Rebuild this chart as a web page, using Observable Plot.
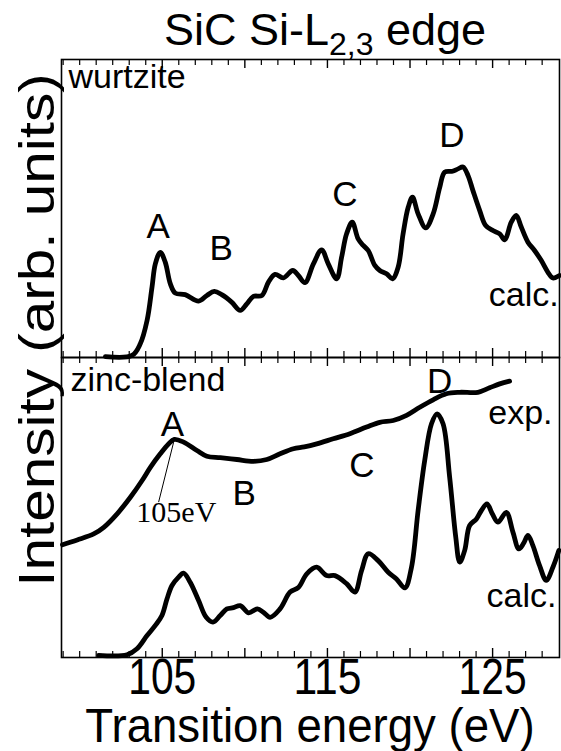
<!DOCTYPE html>
<html><head><meta charset="utf-8">
<script src="https://cdn.jsdelivr.net/npm/d3@7"></script>
<script src="https://cdn.jsdelivr.net/npm/@observablehq/plot@0.6"></script>
<style>
body{margin:0;background:#fff;}
#wrap{position:relative;width:561px;height:751px;overflow:hidden;font-family:"Liberation Sans",Arial,sans-serif;color:#000;}
#wrap svg{position:absolute;left:0;background:transparent;}
.lab{position:absolute;white-space:nowrap;line-height:1;}
#title{left:0;width:650px;text-align:center;font-size:45px;top:7px;}
#xlabel{left:0;width:620px;text-align:center;font-size:48px;top:702px;transform:scaleX(0.95);transform-origin:310px 50%;}
#ylabel{font-size:50px;width:600px;text-align:center;left:-263px;top:305px;transform:rotate(-90deg) scaleX(1.17);transform-origin:50% 50%;}
</style></head><body>
<div id="wrap">
  <div id="ptop"></div>
  <div id="pbot"></div>
  <div class="lab" id="title">SiC Si-L<span style="font-size:32px;position:relative;top:10px">2,3</span> edge</div>
  <div class="lab" id="ylabel">Intensity (arb. units)</div>
  <div class="lab" id="xlabel">Transition energy (eV)</div>
</div>
<script>
// ---- data ----
const xDomain = [98.9, 129.05];
const majorTicks = [105, 110, 115, 120, 125];
const minorTicks = [99,100,101,102,103,104,106,107,108,109,111,112,113,114,116,117,118,119,121,122,123,124,126,127,128];
const tickLabels = [105, 115, 125];

// wurtzite, calculated
const wzE = [101.56,103.17,103.67,104.08,104.38,104.58,104.88,105.18,105.49,105.79,106.39,107.2,107.7,108.15,108.6,109.2,109.72,110.12,110.52,111.03,111.43,111.83,112.33,112.9,113.24,113.64,114.15,114.65,115.05,115.56,115.86,116.16,116.5,116.86,117.17,117.47,117.87,118.17,118.58,118.94,119.28,119.58,119.89,120.15,120.49,120.95,121.4,121.8,122.1,122.57,122.91,123.21,123.51,123.81,124.22,124.58,125.02,125.43,125.73,126.13,126.43,126.74,127.14,127.54,127.94,128.35,128.65,129.05];
const wzCalc = [0.3,0.7,4.6,12.4,23.6,31.4,35.3,32,24.7,21.6,21.1,18.9,20.8,22.2,21.1,18.6,15.8,18,20.5,20.8,25.3,27.9,26.7,29.2,27.5,25.1,31.4,36.1,31.4,26.4,33.7,41.5,45.4,39.8,37.6,35.9,30.9,29.2,28.1,26.4,30.3,41.5,50.4,53.8,48.2,43.5,48.2,57.1,62.2,62.5,63.3,63.9,61.1,56,49.3,44.3,42.6,41.5,39.5,45.4,47.7,43.7,38.7,35.9,32.6,28.6,26.7,27.5];

// zinc-blend, experiment
const zbExpE = [98.96,99.85,100.85,101.46,102.27,103.07,103.78,104.28,104.88,105.38,105.73,106.29,107.1,107.7,108.51,109.52,110.52,111.33,112.13,112.94,113.6,114.35,115.35,116.36,117.37,118.17,118.98,119.79,120.59,121.4,122.2,123.01,124.11,124.82,125.43,126.03];
const zbExp = [37.6,39.2,41.2,43.4,47.9,53.4,59,63.4,67.9,71.2,72.7,71.8,69,67.1,66.6,66,65.4,66,67.9,69.6,70.2,71.2,72.9,74.6,76.8,78.4,79,80.7,83.4,85.9,87.9,88.4,88.4,89.9,91.2,92.1];

// zinc-blend, calculated
const zbCalcE = [101.15,102.87,103.47,104.08,104.58,104.98,105.29,105.59,105.99,106.29,106.69,107.2,107.66,108.07,108.51,108.91,109.31,109.72,110.22,110.76,111.12,111.53,112.13,112.74,113.24,113.75,114.35,114.95,115.46,116.16,116.66,117.07,117.47,118.07,118.68,119.18,119.69,120.09,120.49,120.89,121.3,121.64,122,122.4,122.77,123.01,123.31,123.61,124.02,124.32,124.66,124.98,125.32,125.83,126.23,126.59,126.88,127.14,127.44,127.84,128.25,128.65,129.01];
const zbCalc = [0.7,0.9,2.9,7.3,10.7,14,19.6,24,26.8,28.1,25.1,19,13.4,11.8,14,16.2,16.6,17.3,14.9,16.2,15.1,13.4,16.2,21.8,23.3,27.9,30.1,27.3,27.3,24.6,21.8,29,34.6,32.3,28.4,26.2,23.2,30.1,49,65.7,77.9,81.2,77.9,60.1,40.1,31.8,35.7,44,46.2,49,51.2,47.9,45.1,48.4,41.8,36.2,38.1,40.7,37.3,30.7,25.7,30.1,35.7];

// annotations
const topNames = ["wurtzite", "A", "B", "C", "D", "calc."];
const topNameE = [99.32, 104.76, 108.57, 116.06, 122.53, 129.0];
const topNameV = [90.3, 40, 32.6, 51, 70.8, 17.4];
const topAnchor = ["start", "middle", "middle", "middle", "middle", "end"];

const botNames = ["zinc-blend", "A", "B", "C", "D", "exp.", "calc."];
const botNameE = [99.44, 105.61, 109.96, 117.09, 121.8, 128.63, 128.87];
const botNameV = [89, 74, 50.7, 60.3, 88.3, 78, 16.7];
const botAnchor = ["start", "middle", "middle", "middle", "middle", "end", "end"];

const peakNote = ["105eV"];
const peakNoteE = [105.85];
const peakNoteV = [45.3];
const leaderE = [105.69, 104.78];
const leaderV = [71.8, 51.8];

// ---- drawing ----
const W = 561;
const lineStyle = {stroke: "black", strokeWidth: 4.8, strokeLinejoin: "round", strokeLinecap: "round", curve: "catmull-rom"};
const fontMain = "Liberation Sans, Arial, sans-serif";

function frameTicks(h) {
  return [
    Plot.ruleX(minorTicks, {x: d => d, insetTop: h - 6, stroke: "black", strokeWidth: 1.2}),
    Plot.ruleX(minorTicks, {x: d => d, insetBottom: h - 6, stroke: "black", strokeWidth: 1.2}),
    Plot.ruleX(majorTicks, {x: d => d, insetTop: h - 9, stroke: "black", strokeWidth: 1.4}),
    Plot.ruleX(majorTicks, {x: d => d, insetBottom: h - 9, stroke: "black", strokeWidth: 1.4}),
    Plot.frame({stroke: "black", strokeWidth: 1.6})
  ];
}
function labelMarks(rows) {
  const sizes = {start: 34, middle: 35, end: 34};
  return ["start", "middle", "end"].map(a =>
    Plot.text(rows.filter(d => d.a === a),
      {x: "e", y: "v", text: "t", textAnchor: a, lineAnchor: "bottom", fontSize: sizes[a], fontFamily: fontMain, fill: "black"}));
}

const topH = 298;
const topRows = topNames.map((t, i) => ({t, e: topNameE[i], v: topNameV[i], a: topAnchor[i]}));
const topPlot = Plot.plot({
  width: W, height: 59 + topH + 1,
  marginTop: 59, marginBottom: 1, marginLeft: 61, marginRight: 2,
  style: {background: "transparent", overflow: "visible"},
  x: {domain: xDomain, axis: null},
  y: {domain: [0, 100], axis: null},
  marks: [
    ...frameTicks(topH),
    Plot.line(wzE.map((e, i) => ({e, v: wzCalc[i]})), {x: "e", y: "v", ...lineStyle}),
    ...labelMarks(topRows)
  ]
});
topPlot.style.top = "0px";
document.getElementById("ptop").appendChild(topPlot);

const botH = 300;
const botRows = botNames.map((t, i) => ({t, e: botNameE[i], v: botNameV[i], a: botAnchor[i]}));
const botPlot = Plot.plot({
  width: W, height: 1 + botH + 94,
  marginTop: 1, marginBottom: 94, marginLeft: 61, marginRight: 2,
  style: {background: "transparent", overflow: "visible"},
  x: {domain: xDomain},
  y: {domain: [0, 100], axis: null},
  marks: [
    ...frameTicks(botH),
    Plot.axisX(tickLabels, {anchor: "bottom", tickSize: 0, tickPadding: 1, fontSize: 50, fontFamily: fontMain, label: null, tickFormat: d => String(d)}),
    Plot.line(zbExpE.map((e, i) => ({e, v: zbExp[i]})), {x: "e", y: "v", ...lineStyle}),
    Plot.line(zbCalcE.map((e, i) => ({e, v: zbCalc[i]})), {x: "e", y: "v", ...lineStyle}),
    Plot.link([0], {x1: () => leaderE[0], y1: () => leaderV[0], x2: () => leaderE[1], y2: () => leaderV[1], stroke: "black", strokeWidth: 1}),
    Plot.text(peakNote.map((t, i) => ({t, e: peakNoteE[i], v: peakNoteV[i]})),
      {x: "e", y: "v", text: "t", textAnchor: "middle", lineAnchor: "bottom", fontSize: 30, fontFamily: "Liberation Serif, Times New Roman, serif", fill: "black"}),
    ...labelMarks(botRows)
  ]
});
// the reference's tick numerals are condensed: squeeze each to the width seen there
botPlot.querySelectorAll('g[aria-label="x-axis tick label"] text').forEach(t => {
  t.setAttribute("textLength", "68");
  t.setAttribute("lengthAdjust", "spacingAndGlyphs");
});
botPlot.style.top = "356px";
document.getElementById("pbot").appendChild(botPlot);
</script>
</body></html>
